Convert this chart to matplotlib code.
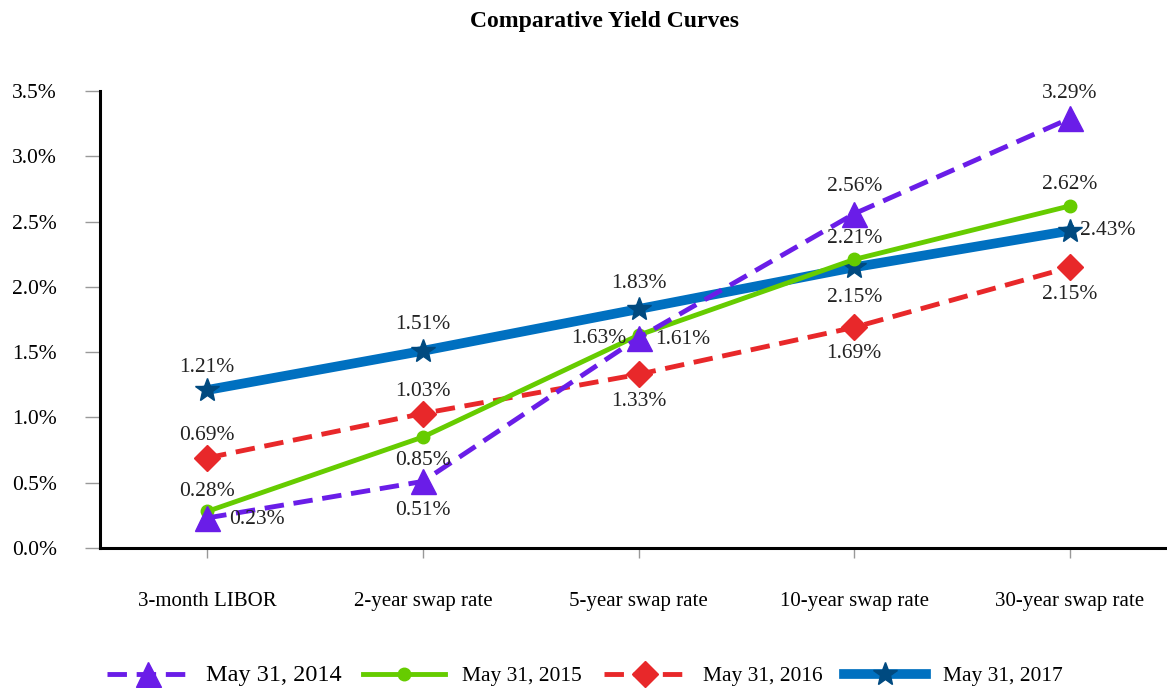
import matplotlib.pyplot as plt

plt.rcParams['font.family'] = ['Liberation Serif', 'DejaVu Serif']

categories = ['3-month LIBOR', '2-year swap rate', '5-year swap rate',
              '10-year swap rate', '30-year swap rate']
y2014 = [0.23, 0.51, 1.61, 2.56, 3.29]
y2015 = [0.28, 0.85, 1.63, 2.21, 2.62]
y2016 = [0.69, 1.03, 1.33, 1.69, 2.15]
y2017 = [1.21, 1.51, 1.83, 2.15, 2.43]
series_names = ['May 31, 2014', 'May 31, 2015', 'May 31, 2016', 'May 31, 2017']

# label offsets in pixels (dx, dy) for each point
off2014 = [(50, -2), (0, -29), (44, -2), (0, 27), (0, 25)]
off2015 = [(0, 20), (0, -23), (-40, -3), (0, 21), (0, 21)]
off2016 = [(0, 22), (0, 22), (0, -27), (0, -26), (0, -27)]
off2017 = [(0, 23), (0, 26), (0, 26), (0, -30), (38, 0)]

fig = plt.figure(figsize=(11.67, 6.88), dpi=100)
ax = fig.add_axes([100 / 1167, 1 - 548 / 688, 1 - 100 / 1167, (548 - 91) / 688])

x = list(range(len(categories)))

ax.plot(x, y2017, color='#0070c0', lw=7, marker='*', ms=18,
        mfc='#004a80', mec='#004a80', label=series_names[3], zorder=2)
ax.plot(x, y2016, color='#e8282a', lw=3.5, ls=(0, (4, 2)), marker='D', ms=13,
        label=series_names[2], zorder=3)
ax.plot(x, y2015, color='#66cc00', lw=3.5, marker='o', ms=9,
        label=series_names[1], zorder=4)
ax.plot(x, y2014, color='#6a1de8', lw=3.5, ls=(0, (4, 2)), marker='^', ms=18,
        label=series_names[0], zorder=5)

for ys, offs in [(y2014, off2014), (y2015, off2015), (y2016, off2016), (y2017, off2017)]:
    for xi, yi, (dx, dy) in zip(x, ys, offs):
        ax.annotate('{:.2f}%'.format(yi), (xi, yi), xytext=(dx, dy),
                    textcoords='offset pixels', ha='center', va='center',
                    fontsize=15.5, color='#222222', zorder=6)

ax.set_xlim(-0.497, 4.45)
ax.set_ylim(0, 3.5)
ax.set_xticks(x)
ax.set_xticklabels(categories)
ax.set_yticks([0, 0.5, 1.0, 1.5, 2.0, 2.5, 3.0, 3.5])
ax.set_yticklabels(['{:.1f}%'.format(v) for v in [0, 0.5, 1.0, 1.5, 2.0, 2.5, 3.0, 3.5]])
ax.tick_params(axis='y', length=11, width=1, color='#999999', pad=20, labelsize=15.5)
ax.tick_params(axis='x', length=7, width=1, color='#999999', pad=25, labelsize=15)
for s in ['top', 'right']:
    ax.spines[s].set_visible(False)
for s in ['left', 'bottom']:
    ax.spines[s].set_linewidth(2.2)
    ax.spines[s].set_color('black')

fig.text(605 / 1167, 1 - 22 / 688, 'Comparative Yield Curves', ha='center', va='center',
         fontsize=17, fontweight='bold')

handles, labels = ax.get_legend_handles_labels()
order = [3, 2, 1, 0]
leg = fig.legend([handles[i] for i in order], [labels[i] for i in order],
                 loc='center', bbox_to_anchor=(585 / 1167, 1 - 676 / 688), ncol=4,
                 frameon=False, fontsize=15.5, handlelength=3.8, handletextpad=0.8,
                 columnspacing=1.0)
leg.get_texts()[0].set_fontsize(17.5)

fig.savefig('out.png', dpi=100)
